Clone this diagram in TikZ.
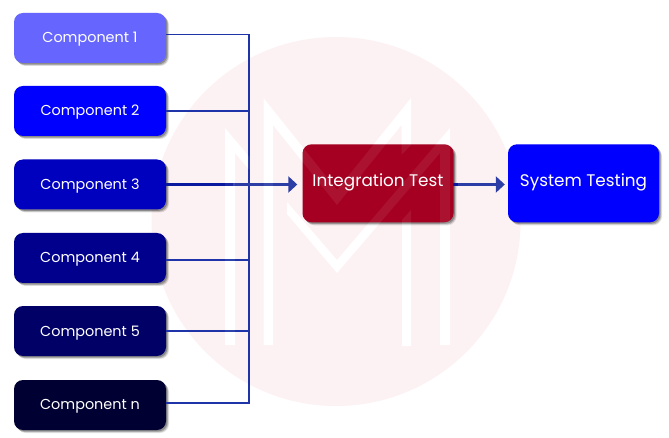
\documentclass[tikz,border=0pt]{standalone}
\usepackage{fontspec}
\setmainfont{Poppins}
\usetikzlibrary{arrows.meta,shadows}
\definecolor{wash}{HTML}{FDF2F3}
\definecolor{linkc}{HTML}{1F34A8}
\definecolor{arrowc}{HTML}{2D3DA6}
\definecolor{darkc}{HTML}{0A1A9E}
\newcommand{\lifted}[2]{\raisebox{#1}[0pt][0pt]{#2}}
\tikzset{
  softshadow/.style={
    general shadow={shadow xshift=0pt,shadow yshift=0pt,fill=black,fill opacity=.04,scale=1.035},
    general shadow={shadow xshift=3pt,shadow yshift=-3pt,fill=black,fill opacity=.12},
    general shadow={shadow xshift=2.2pt,shadow yshift=-2.2pt,fill=black,fill opacity=.18},
    general shadow={shadow xshift=1.3pt,shadow yshift=-1.3pt,fill=black,fill opacity=.24}
  },
  box/.style={softshadow,rectangle,rounded corners=9pt,text=white,inner sep=0pt,align=center},
  compbox/.style={box,minimum width=152pt,minimum height=50pt,font=\fontsize{14.4}{17}\selectfont},
  bigbox/.style={box,minimum width=151pt,minimum height=78pt,font=\fontsize{16.8}{20}\selectfont},
  link/.style={draw=linkc,line width=1.7pt},
  flow/.style={draw=arrowc,line width=2.4pt,-{Triangle[length=9pt,width=16pt]}},
  darkpart/.style={draw=darkc,line width=2.4pt},
  mark shape/.style={fill=white},
  mark veil/.style={fill=white,fill opacity=.07}
}
\newcommand{\mshapes}[1]{%
  \fill[#1] (225,345) -- (225,128) -- (249.5,157) -- (249.5,170) -- (235,153) -- (235,345) -- cycle;
  \fill[#1] (263.5,345) -- (263.5,98) -- (337,190) -- (411,98) -- (411,145) -- (401.5,155) -- (401.5,125) -- (337,205) -- (273,125) -- (273,345) -- cycle;
  \fill[#1] (287,202) -- (337,260) -- (450,128) -- (450,345) -- (440,345) -- (440,153) -- (337,273) -- (287,214) -- cycle;
  \fill[#1] (402,220) -- (411,210) -- (411,346) -- (402,346) -- cycle;
}
\begin{document}
\begin{tikzpicture}[x=1pt,y=-1pt]
\useasboundingbox (0,0) rectangle (669,438);
\fill[white] (0,0) rectangle (669,438);
\fill[wash] (336,221.5) circle[radius=184.5pt];
\mshapes{mark shape}

\node[compbox,fill={rgb,255:red,102;green,102;blue,255}] (c1) at (90,38) {\lifted{-4.8pt}{Component 1}};
\node[compbox,fill={rgb,255:red,0;green,0;blue,255}] (c2) at (90,111) {\lifted{-5pt}{Component 2}};
\node[compbox,fill={rgb,255:red,0;green,0;blue,191}] (c3) at (90,184.5) {\lifted{-5pt}{Component 3}};
\node[compbox,fill={rgb,255:red,0;green,0;blue,140}] (c4) at (90,258) {\lifted{-5pt}{Component 4}};
\node[compbox,fill={rgb,255:red,0;green,0;blue,102}] (c5) at (90,331) {\lifted{-5pt}{Component 5}};
\node[compbox,fill={rgb,255:red,0;green,0;blue,51}] (c6) at (90,405) {\lifted{-4pt}{Component n}};
\node[bigbox,fill={rgb,255:red,165;green,0;blue,33}] (int) at (378,183.3) {\lifted{-3.2pt}{Integration Test}};
\node[bigbox,fill={rgb,255:red,0;green,0;blue,255}] (sys) at (583.5,183.3) {\lifted{-3.2pt}{System Testing}};

\coordinate (busTop) at (249,34.5);
\coordinate (bus2) at (249,111);
\coordinate (bus4) at (249,260);
\coordinate (bus5) at (249,331);
\coordinate (busBot) at (249,403);
\coordinate (darkEnd) at (233,184.5);
\coordinate (outStart) at (453,184.5);
\coordinate (outDark) at (458,184.5);

\draw[link] (c1.east |- busTop) -- (busTop) -- (busBot) -- (c6.east |- busBot);
\draw[link] (c2.east |- bus2) -- (bus2);
\draw[link] (c4.east |- bus4) -- (bus4);
\draw[link] (c5.east |- bus5) -- (bus5);
\draw[flow,shorten >=5pt] (c3.east) -- (c3.east -| int.west);
\draw[darkpart] (c3.east) -- (darkEnd);
\draw[flow,shorten >=3pt] (outStart) -- (outStart -| sys.west);
\draw[darkpart] (outStart) -- (outDark);
\mshapes{mark veil}
\end{tikzpicture}
\end{document}
